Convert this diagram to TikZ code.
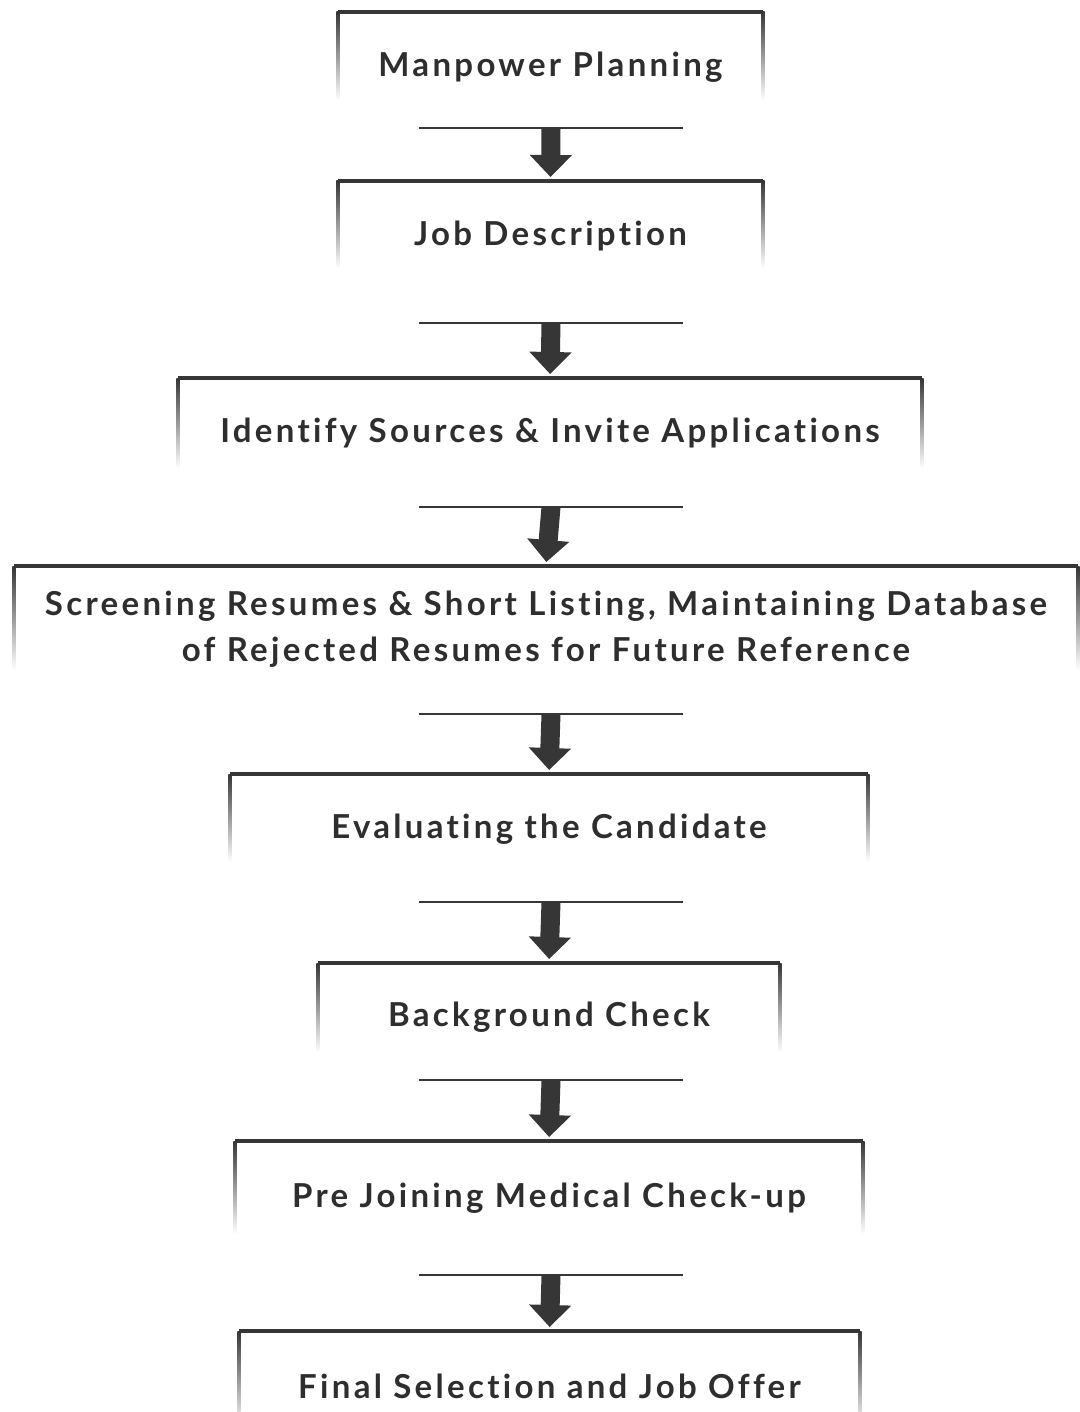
\documentclass[tikz,border=0pt]{standalone}
\usepackage{fontspec}
\setmainfont{Lato}[LetterSpace=10, Ligatures=NoCommon]
\usetikzlibrary{calc,arrows.meta}
\definecolor{ink}{HTML}{363636}
\definecolor{txt}{HTML}{2E2E2E}

% One process box: open at the bottom, its sides fading out downwards.
% #1 name, #2 left x, #3 right x, #4 top y, #5 end of the sides, #6 text y, #7 text
\newcommand\flowbox[7]{%
  \coordinate (#1nw) at (#2,#4);
  \coordinate (#1ne) at (#3,#4);
  \coordinate (#1in) at ({(#2+#3)/2},#4);
  \node[lbl] (#1) at ({(#2+#3)/2},#6) {#7};
  \draw[topedge] (#1nw) -- (#1ne);
  \shade[top color=ink, bottom color=white] (#2-1.6,#4) rectangle (#2+1.6,#5);
  \shade[top color=ink, bottom color=white] (#3-1.6,#4) rectangle (#3+1.6,#5);
}
% Short rule under a box, where the next arrow starts.
% #1 name, #2 y
\newcommand\flowrule[2]{%
  \coordinate (#1w) at (419,#2);
  \coordinate (#1e) at (683,#2);
  \coordinate (#1) at (551,#2);
  \draw[rule] (#1w) -- (#1e);
}

\begin{document}
\begin{tikzpicture}[x=0.5pt,y=-0.5pt,
  lbl/.style={font=\bfseries\fontsize{16.5}{23}\selectfont, text=txt, align=center, inner sep=0},
  topedge/.style={draw=ink, line width=2pt},
  rule/.style={draw=ink, line width=1.2pt},
  flowarrow/.style={draw=ink, line width=9.5pt,
    -{Triangle[width=20.5pt,length=11pt]}, fill=ink, shorten >=2pt}]
  \fill[white] (0,0) rectangle (1080,1412);
  \useasboundingbox (0,0) rectangle (1080,1412);

  \flowbox{b1}{338}{763}{12}{100}{67}{Manpower Planning}
  \flowrule{r1}{128}
  \flowbox{b2}{338}{763}{181}{268}{236}{Job Description}
  \flowrule{r2}{323}
  \flowbox{b3}{178}{922}{378}{468}{433}{Identify Sources \& Invite Applications}
  \flowrule{r3}{507}
  \flowbox{b4}{14}{1078}{566}{670}{629}{Screening Resumes \& Short Listing, Maintaining Database\\of Rejected Resumes for Future Reference}
  \flowrule{r4}{714}
  \flowbox{b5}{230}{868}{774}{862}{829}{Evaluating the Candidate}
  \flowrule{r5}{902}
  \flowbox{b6}{318}{780}{963}{1052}{1017}{Background Check}
  \flowrule{r6}{1080}
  \flowbox{b7}{235}{863}{1141}{1234}{1198}{Pre Joining Medical Check-up}
  \flowrule{r7}{1275}
  \flowbox{b8}{239}{860}{1331}{1430}{1386}{Final Selection and Job Offer}

  \draw[flowarrow] (r1) -- (b2in);
  \draw[flowarrow] (r2) -- (b3in);
  \draw[flowarrow] (r3) -- (b4in);
  \draw[flowarrow] (r4) -- (b5in);
  \draw[flowarrow] (r5) -- (b6in);
  \draw[flowarrow] (r6) -- (b7in);
  \draw[flowarrow] (r7) -- (b8in);
\end{tikzpicture}
\end{document}
